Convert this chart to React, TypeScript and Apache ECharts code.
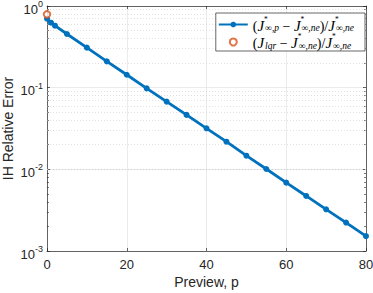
import React, { useEffect, useRef } from 'react';
import * as echarts from 'echarts';

const previewP = [0, 1, 2, 5, 10, 15, 20, 25, 30, 35, 40, 45, 50, 55, 60, 65, 70, 75, 80];
const ihError = [0.70, 0.625, 0.574, 0.454, 0.309, 0.21, 0.144, 0.098, 0.0675, 0.0464, 0.0318, 0.0218, 0.0147, 0.0101, 0.00687, 0.00472, 0.00324, 0.00223, 0.00152];
const lqrP = [0];
const lqrError = [0.79];
const yMinorTicks = [
  0.002, 0.003, 0.004, 0.005, 0.006, 0.007, 0.008, 0.009,
  0.02, 0.03, 0.04, 0.05, 0.06, 0.07, 0.08, 0.09,
  0.2, 0.3, 0.4, 0.5, 0.6, 0.7, 0.8, 0.9,
];
const seriesNames = ['ihp', 'lqr'];
const legendTexts: Record<string, string> = {
  ihp: '{n|(}{i|J}{s|*}{b|∞,p}{n| − }{i|J}{s|*}{b|∞,ne}{n|)/}{i|J}{s|*}{b|∞,ne}',
  lqr: '{n|(}{i|J}{b|lqr}{n| − }{i|J}{s|*}{b|∞,ne}{n|)/}{i|J}{s|*}{b|∞,ne}',
};

const AX = '#262626';
const FONT = 'Liberation Sans';
const SERIF = 'Liberation Serif';

export default function App() {
  const ref = useRef<HTMLDivElement>(null);
  useEffect(() => {
    if (!ref.current) return;
    const chart = echarts.init(ref.current, undefined, { renderer: 'svg' });
    const logCommon = {
      type: 'log' as const,
      logBase: 10,
      min: 0.001,
      max: 1,
    };
    chart.setOption({
      animation: false,
      backgroundColor: '#fff',
      grid: { left: 47, right: 7, top: 6, bottom: 42, containLabel: false, outerBoundsMode: 'none' },
      legend: {
        orient: 'vertical',
        right: 8,
        top: 13,
        padding: [2, 11, 0.5, 2],
        itemGap: -0.5,
        itemWidth: 29,
        itemHeight: 7,
        borderColor: AX,
        borderWidth: 0.7,
        borderRadius: 0,
        backgroundColor: '#fff',
        selectedMode: false,
        data: seriesNames,
        formatter: (name: string) => legendTexts[name],
        textStyle: {
          rich: {
            n: { fontFamily: SERIF, fontSize: 14, color: '#000', lineHeight: 17, verticalAlign: 'bottom' },
            i: { fontFamily: SERIF, fontStyle: 'italic', fontSize: 15, color: '#000', lineHeight: 17, verticalAlign: 'bottom' },
            s: { fontFamily: SERIF, fontSize: 7.5, color: '#000', lineHeight: 7, padding: [0, 0, 10, 0], width: 0, verticalAlign: 'bottom' },
            b: { fontFamily: SERIF, fontStyle: 'italic', fontSize: 9.5, color: '#000', lineHeight: 9, padding: [8, 0, 0, 1], verticalAlign: 'bottom' },
          },
        },
      },
      xAxis: [
        {
          type: 'value',
          min: 0,
          max: 80,
          interval: 20,
          name: 'Preview, p',
          nameLocation: 'middle',
          nameGap: 24,
          nameMoveOverlap: false,
          nameTextStyle: { fontFamily: FONT, fontSize: 14, color: AX },
          axisLine: { show: true, lineStyle: { color: AX, width: 0.7 } },
          axisTick: { show: true, inside: true, length: 3, lineStyle: { color: AX, width: 0.7 } },
          axisLabel: { fontFamily: FONT, fontSize: 13, color: AX, margin: 7 },
          splitLine: { show: true, lineStyle: { color: '#e3e3e3', width: 0.7 } },
        },
        {
          type: 'value',
          min: 0,
          max: 80,
          interval: 20,
          position: 'top',
          axisLine: { show: true, onZero: false, lineStyle: { color: AX, width: 0.7 } },
          axisTick: { show: true, inside: true, length: 3, lineStyle: { color: AX, width: 0.7 } },
          axisLabel: { show: false },
          splitLine: { show: false },
        },
      ],
      yAxis: [
        {
          ...logCommon,
          name: 'IH Relative Error',
          nameLocation: 'middle',
          nameGap: 32,
          nameMoveOverlap: false,
          nameTextStyle: { fontFamily: FONT, fontSize: 14, color: AX },
          axisLine: { show: true, lineStyle: { color: AX, width: 0.7 } },
          axisTick: { show: true, inside: true, length: 3, lineStyle: { color: AX, width: 0.7 } },
          axisLabel: {
            margin: 4,
            padding: [6, 0, 0, 0],
            formatter: (v: number) => `{b|10}{e|${Math.round(Math.log10(v))}}`,
            rich: {
              b: { fontFamily: FONT, fontSize: 13, color: AX, lineHeight: 13, verticalAlign: 'bottom' },
              e: { fontFamily: FONT, fontSize: 9, color: AX, lineHeight: 9, padding: [0, 0, 7, 0], verticalAlign: 'bottom' },
            },
          },
          splitLine: { show: true, lineStyle: { color: '#e3e3e3', width: 0.7 } },
        },
        {
          ...logCommon,
          position: 'right',
          axisLine: { show: true, onZero: false, lineStyle: { color: AX, width: 0.7 } },
          axisTick: { show: true, inside: true, length: 3, lineStyle: { color: AX, width: 0.7 } },
          axisLabel: { show: false },
          splitLine: { show: false },
        },
        {
          ...logCommon,
          position: 'left',
          axisLine: { show: false },
          axisTick: { show: true, inside: true, length: 2, customValues: yMinorTicks, lineStyle: { color: AX, width: 0.6 } },
          axisLabel: { show: false },
          splitLine: { show: false },
        },
        {
          ...logCommon,
          position: 'right',
          axisLine: { show: false },
          axisTick: { show: true, inside: true, length: 2, customValues: yMinorTicks, lineStyle: { color: AX, width: 0.6 } },
          axisLabel: { show: false },
          splitLine: { show: false },
        },
      ],
      series: [
        {
          name: 'ihp',
          type: 'line',
          xAxisIndex: 0,
          yAxisIndex: 0,
          data: previewP.map((p, i) => [p, ihError[i]]),
          clip: false,
          symbol: 'circle',
          symbolSize: 6,
          showAllSymbol: true,
          lineStyle: { color: '#0072BD', width: 2.8 },
          itemStyle: { color: '#0072BD' },
          markLine: {
            silent: true,
            symbol: ['none', 'none'],
            z: 1,
            label: { show: false },
            lineStyle: { color: '#cfcfcf', width: 0.6, type: [1, 2] },
            data: yMinorTicks.map((v) => ({ yAxis: v })),
          },
          z: 3,
        },
        {
          name: 'lqr',
          type: 'scatter',
          xAxisIndex: 0,
          yAxisIndex: 0,
          data: lqrP.map((p, i) => [p, lqrError[i]]),
          clip: false,
          symbol: 'emptyCircle',
          symbolSize: 6.5,
          itemStyle: { color: '#D95319', borderColor: '#D95319', borderWidth: 2 },
          z: 4,
        },
      ],
    });
    return () => chart.dispose();
  }, []);
  return <div ref={ref} style={{ position: 'fixed', left: 0, top: 0, width: 373, height: 293 }} />;
}
